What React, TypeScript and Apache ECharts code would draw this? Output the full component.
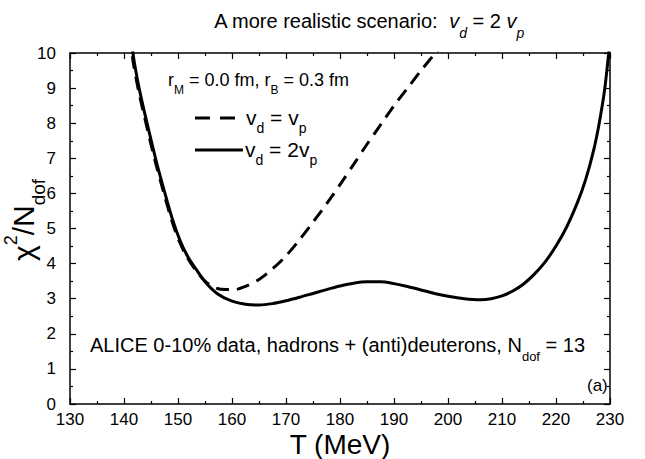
import React, { useEffect, useRef } from "react";
import * as echarts from "echarts";

// Temperature grid (MeV) and chi^2/Ndof for the v_d = 2 v_p scenario (solid)
const T_SOLID = [
  141.2, 142, 143, 144.5, 146, 147.5, 149, 150.4, 151.8, 153.3, 155.2, 157.5, 160,
  162.5, 165, 167.5, 170, 172.5, 175, 177.5, 180, 182.5, 185, 187.5, 190, 192.5,
  195, 197.5, 200, 203, 206, 208, 210, 212, 214, 216, 218, 220, 222, 224, 225.5,
  227, 228, 229, 229.7, 230,
];
const CHI_SOLID = [
  10.5, 9.65, 8.85, 7.85, 6.9, 6.05, 5.25, 4.65, 4.2, 3.85, 3.45, 3.12, 2.93, 2.84,
  2.82, 2.86, 2.94, 3.04, 3.15, 3.26, 3.36, 3.44, 3.48, 3.48, 3.43, 3.35, 3.25, 3.15,
  3.07, 3.0, 2.97, 3.0, 3.08, 3.22, 3.42, 3.7, 4.05, 4.5, 5.05, 5.75, 6.4, 7.25, 8.0,
  8.95, 9.9, 10.3,
];

// chi^2/Ndof for the v_d = v_p scenario (dashed)
const T_DASHED = [
  141.0, 141.8, 142.8, 144.3, 145.8, 147.3, 148.8, 150.2, 151.6, 153.1, 155, 157.1,
  159, 160.5, 162.5, 165, 167.5, 170, 172.5, 175, 177.5, 180, 182.5, 185, 187.5, 190,
  192.5, 195, 197.5, 198.5,
];
const CHI_DASHED = [
  10.5, 9.65, 8.85, 7.85, 6.9, 6.05, 5.25, 4.65, 4.2, 3.85, 3.5, 3.3, 3.26, 3.26,
  3.35, 3.55, 3.85, 4.22, 4.68, 5.18, 5.7, 6.25, 6.82, 7.4, 7.95, 8.5, 9.0, 9.5,
  9.97, 10.15,
];

const X_MIN = 130;
const X_MAX = 230;
const X_STEP = 10;
const Y_MIN = 0;
const Y_MAX = 10;
const Y_STEP = 1;

const FONT = "'Liberation Sans', Arial, sans-serif";

const zip = (xs: number[], ys: number[]) => xs.map((x, i) => [x, ys[i]]);

export default function App() {
  const ref = useRef<HTMLDivElement>(null);

  useEffect(() => {
    if (!ref.current) return;
    const chart = echarts.init(ref.current, undefined, { renderer: "svg" });

    const grid = { left: 70, top: 53, width: 540, height: 351 };

    const axisCommon = {
      type: "value" as const,
      axisLine: { show: true, onZero: false, lineStyle: { color: "#000", width: 1.5 } },
      axisTick: { show: true, inside: true, length: 6, lineStyle: { color: "#000", width: 1.2 } },
      minorTick: { show: true, splitNumber: 2, length: 3, lineStyle: { color: "#000", width: 1.2 } },
      splitLine: { show: false },
    };

    const label = { color: "#000", fontSize: 17, fontFamily: FONT };

    // subscript helper for rich text
    const sub = (size: number, drop: number) => ({
      fontSize: size,
      fontFamily: FONT,
      color: "#000",
      verticalAlign: "bottom",
      lineHeight: size,
      padding: [0, 0, -drop, 0],
    });

    chart.setOption({
      animation: false,
      backgroundColor: "#fff",
      grid: { ...grid, containLabel: false },
      xAxis: [
        {
          ...axisCommon,
          position: "bottom",
          min: X_MIN,
          max: X_MAX,
          interval: X_STEP,
          axisLabel: { ...label, margin: 7 },
        },
        {
          ...axisCommon,
          position: "top",
          min: X_MIN,
          max: X_MAX,
          interval: X_STEP,
          axisLabel: { show: false },
        },
      ],
      yAxis: [
        {
          ...axisCommon,
          position: "left",
          min: Y_MIN,
          max: Y_MAX,
          interval: Y_STEP,
          axisLabel: { ...label, margin: 14 },
        },
        {
          ...axisCommon,
          position: "right",
          min: Y_MIN,
          max: Y_MAX,
          interval: Y_STEP,
          axisLabel: { show: false },
        },
      ],
      series: [
        {
          name: "vd = vp",
          type: "line",
          data: zip(T_DASHED, CHI_DASHED),
          smooth: 0.3,
          showSymbol: false,
          clip: true,
          lineStyle: { color: "#000", width: 3, type: [13, 8] },
        },
        {
          name: "vd = 2vp",
          type: "line",
          data: zip(T_SOLID, CHI_SOLID),
          smooth: 0.3,
          showSymbol: false,
          clip: true,
          lineStyle: { color: "#000", width: 3 },
        },
      ],
      graphic: [
        {
          type: "text",
          x: 369,
          y: 21,
          style: {
            text: "{n|A more realistic scenario:  }{i|v}{s|d}{n| = 2 }{i|v}{s|p}",
            align: "center",
            verticalAlign: "middle",
            fill: "#000",
            rich: {
              n: { fontSize: 20, fontFamily: FONT, color: "#000", lineHeight: 26 },
              i: { fontSize: 20, fontFamily: FONT, fontStyle: "italic", color: "#000", lineHeight: 26 },
              s: { ...sub(14, 6), fontStyle: "italic" },
            },
          },
        },
        {
          type: "text",
          x: 23,
          y: 220,
          rotation: Math.PI / 2,
          style: {
            text: "{m|\u03c7}{p|2}{m|/N}{s|dof}",
            align: "center",
            verticalAlign: "middle",
            fill: "#000",
            rich: {
              m: { fontSize: 30, fontFamily: FONT, color: "#000", lineHeight: 34 },
              p: { fontSize: 18, fontFamily: FONT, color: "#000", verticalAlign: "top", lineHeight: 16, padding: [-4, 0, 0, 0] },
              s: sub(19, 8),
            },
          },
        },
        {
          type: "text",
          x: 340,
          y: 444,
          style: {
            text: "T (MeV)",
            align: "center",
            verticalAlign: "middle",
            fill: "#000",
            fontSize: 28,
            fontFamily: FONT,
          },
        },
        {
          type: "text",
          x: 168,
          y: 80,
          style: {
            text: "{n|r}{s|M}{n| = 0.0 fm, r}{s|B}{n| = 0.3 fm}",
            verticalAlign: "middle",
            fill: "#000",
            rich: {
              n: { fontSize: 18, fontFamily: FONT, color: "#000", lineHeight: 22 },
              s: sub(12, 5),
            },
          },
        },
        {
          type: "line",
          shape: { x1: 195, y1: 118, x2: 236, y2: 118 },
          style: { stroke: "#000", lineWidth: 3, lineDash: [15, 10] },
        },
        {
          type: "text",
          x: 246,
          y: 117,
          style: {
            text: "{n|v}{s|d}{n| = v}{s|p}",
            verticalAlign: "middle",
            fill: "#000",
            rich: {
              n: { fontSize: 21, fontFamily: FONT, color: "#000", lineHeight: 24 },
              s: sub(14, 6),
            },
          },
        },
        {
          type: "line",
          shape: { x1: 195, y1: 150, x2: 243, y2: 150 },
          style: { stroke: "#000", lineWidth: 3 },
        },
        {
          type: "text",
          x: 245,
          y: 149,
          style: {
            text: "{n|v}{s|d}{n| = 2v}{s|p}",
            verticalAlign: "middle",
            fill: "#000",
            rich: {
              n: { fontSize: 21, fontFamily: FONT, color: "#000", lineHeight: 24 },
              s: sub(14, 6),
            },
          },
        },
        {
          type: "text",
          x: 90,
          y: 345,
          style: {
            text: "{n|ALICE 0-10% data, hadrons + (anti)deuterons, N}{s|dof}{n| = 13}",
            verticalAlign: "middle",
            fill: "#000",
            rich: {
              n: { fontSize: 20, fontFamily: FONT, color: "#000", lineHeight: 24 },
              s: sub(13, 6),
            },
          },
        },
        {
          type: "text",
          x: 587,
          y: 385,
          style: {
            text: "(a)",
            verticalAlign: "middle",
            fill: "#000",
            fontSize: 17,
            fontFamily: FONT,
          },
        },
      ],
    });

    return () => chart.dispose();
  }, []);

  return (
    <div
      ref={ref}
      style={{ position: "fixed", left: 0, top: 0, width: 645, height: 459, background: "#fff" }}
    />
  );
}
